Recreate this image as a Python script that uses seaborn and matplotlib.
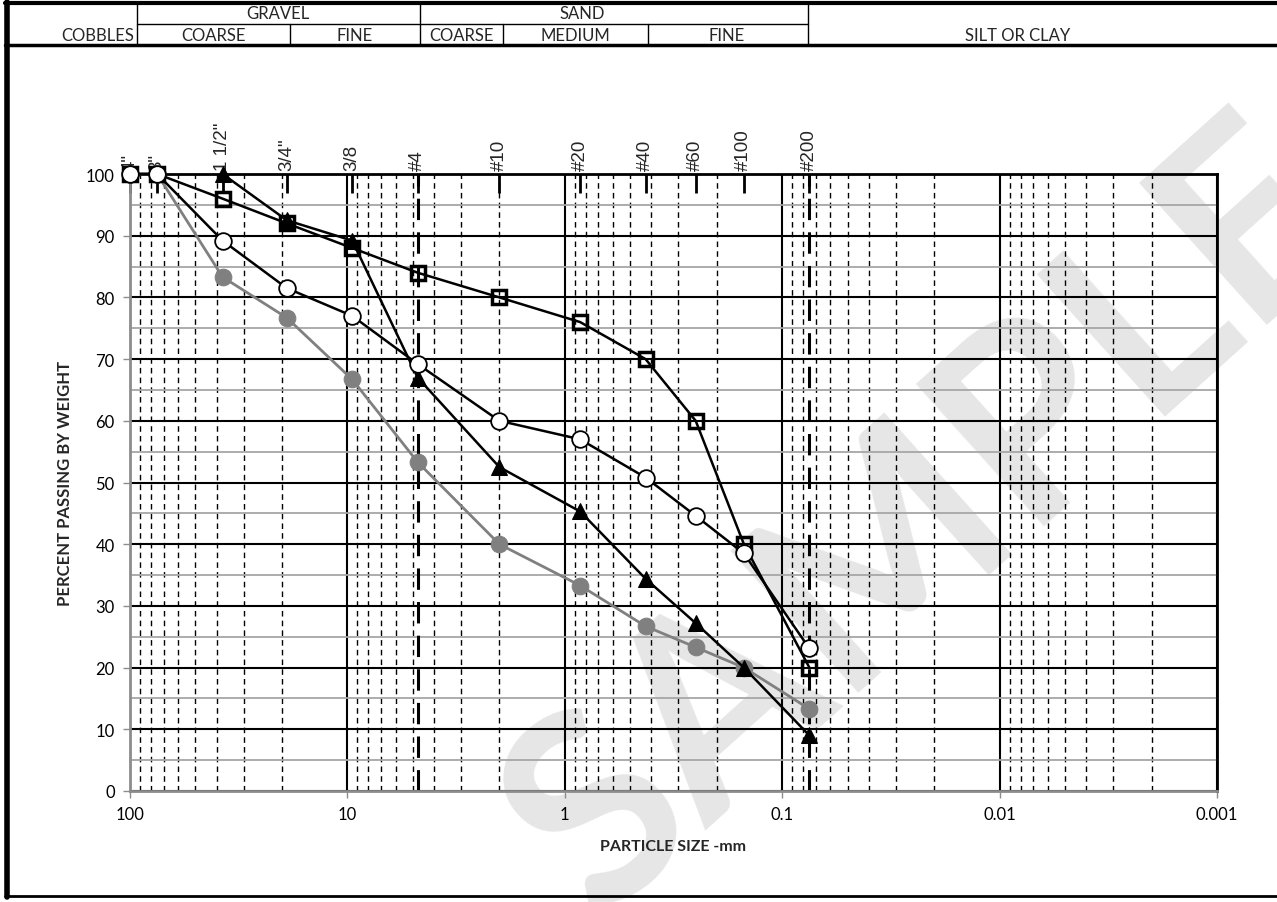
import numpy as np
import pandas as pd
import matplotlib
matplotlib.use("Agg")
import matplotlib.pyplot as plt
import seaborn as sns
from matplotlib.lines import Line2D
from matplotlib.ticker import FixedLocator, FixedFormatter, NullFormatter, LogLocator

# ---------------- data ----------------
sieve_sizes = [100, 75, 37.5, 19, 9.5, 4.75, 2, 0.85, 0.425, 0.25, 0.15, 0.075]
sieve_labels = ['4"', '3"', '1 1/2"', '3/4"', '3/8', '#4', '#10', '#20', '#40', '#60', '#100', '#200']

gray_circle = [100, 100, 83.3, 76.7, 66.7, 53.3, 40.0, 33.3, 26.7, 23.3, 20.0, 13.3]
open_circle = [100, 100, 89.2, 81.5, 77.0, 69.2, 60.0, 57.0, 50.8, 44.6, 38.5, 23.1]
triangle_sizes = [37.5, 19, 9.5, 4.75, 2, 0.85, 0.425, 0.25, 0.15, 0.075]
triangle = [100, 92.5, 89.2, 67.0, 52.5, 45.3, 34.4, 27.2, 20.0, 9.0]
square = [100, 100, 96.0, 92.0, 88.0, 84.0, 80.0, 76.0, 70.0, 60.0, 40.0, 20.0]

x_ticks = [100, 10, 1, 0.1, 0.01, 0.001]
x_tick_labels = ['100', '10', '1', '0.1', '0.01', '0.001']
y_ticks = list(range(0, 101, 10))

header_top = [('GRAVEL', 278), ('SAND', 582)]
header_bottom = [('COARSE', 213), ('FINE', 355), ('COARSE', 462),
                 ('MEDIUM', 575), ('FINE', 727), ('SILT OR CLAY', 1018)]

# ---------------- figure ----------------
sns.set_theme(style="white")
plt.rcParams['font.family'] = ['Lato', 'DejaVu Sans']

W, H = 1277, 903
fig = plt.figure(figsize=(W / 100, H / 100), dpi=100)

def fx(px):
    return px / W

def fy(py):
    return 1 - py / H

# watermark behind everything
fig.text(fx(930), fy(520), 'SAMPLE', rotation=42, fontsize=190, color='#e6e6e6',
         ha='center', va='center', zorder=-5, fontweight='bold', family='Lato')

ax = fig.add_axes([fx(130), fy(792), fx(1217) - fx(130), fy(175) - fy(792)])
ax.set_facecolor('none')
ax.set_xscale('log')
ax.set_xlim(100, 0.001)
ax.set_ylim(0, 100)

# grid
ax.xaxis.set_major_locator(FixedLocator(x_ticks))
ax.xaxis.set_major_formatter(FixedFormatter(x_tick_labels))
ax.xaxis.set_minor_locator(LogLocator(base=10, subs=np.arange(2, 10)))
ax.xaxis.set_minor_formatter(NullFormatter())
ax.yaxis.set_major_locator(FixedLocator(y_ticks))
ax.yaxis.set_minor_locator(FixedLocator([5, 15, 25, 35, 45, 55, 65, 75, 85, 95]))

ax.grid(which='major', axis='both', color='black', lw=1.5, zorder=1)
ax.grid(which='minor', axis='x', color='black', lw=1.0, ls=(0, (4, 3)), zorder=1)
ax.grid(which='minor', axis='y', color='#a6a6a6', lw=1.3, zorder=1)
ax.set_axisbelow(True)

for side in ['top', 'right']:
    ax.spines[side].set_color('black')
    ax.spines[side].set_linewidth(2)
for side in ['left', 'bottom']:
    ax.spines[side].set_color('#8c8c8c')
    ax.spines[side].set_linewidth(2)

ax.tick_params(axis='both', which='major', direction='out', length=5, width=1,
               color='#8c8c8c', labelsize=12, labelcolor='black', pad=6)
ax.tick_params(axis='both', which='minor', length=0)
ax.tick_params(axis='x', which='major', bottom=True)
ax.tick_params(axis='y', which='major', left=True)

# #4 and #200 reference lines
for s in [4.75, 0.075]:
    ax.axvline(s, color='black', lw=2.2, ls=(0, (7, 4)), zorder=2)

# series
ax_kw = dict(ax=ax, sort=False, estimator=None, legend=False, clip_on=False)
sns.lineplot(x=sieve_sizes, y=gray_circle, color='#808080', lw=2, marker='o',
             markersize=12, markerfacecolor='#808080', markeredgecolor='#808080',
             zorder=3, **ax_kw)
sns.lineplot(x=triangle_sizes, y=triangle, color='black', lw=1.8, marker='^',
             markersize=11, markerfacecolor='black', markeredgecolor='black',
             zorder=4, **ax_kw)
sns.lineplot(x=sieve_sizes, y=square, color='black', lw=1.8, marker='s',
             markersize=10, markerfacecolor='none', markeredgecolor='black',
             markeredgewidth=2.5, zorder=5, **ax_kw)
sns.lineplot(x=sieve_sizes, y=open_circle, color='black', lw=1.8, marker='o',
             markersize=12, markerfacecolor='white', markeredgecolor='black',
             markeredgewidth=1.3, zorder=6, **ax_kw)

ax.set_xlabel('PARTICLE SIZE -mm', fontsize=11.5, fontweight='bold', labelpad=12)
ax.set_ylabel('PERCENT PASSING BY WEIGHT', fontsize=12, fontweight='bold', labelpad=9)

# sieve labels at the top
top = ax.twiny()
top.set_xscale('log')
top.set_xlim(ax.get_xlim())
top.xaxis.set_major_locator(FixedLocator(sieve_sizes))
top.xaxis.set_major_formatter(FixedFormatter(sieve_labels))
top.xaxis.set_minor_locator(FixedLocator([]))
top.tick_params(axis='x', which='major', direction='in', length=14, width=2,
                color='black', labelsize=13.5, pad=3, labelrotation=90)
for lab in top.get_xticklabels():
    lab.set_family(['Liberation Sans', 'DejaVu Sans'])
top.set_zorder(-1)
for sp in top.spines.values():
    sp.set_visible(False)

# ---------------- header table & frame ----------------
def hline(y, x0, x1, lw):
    fig.add_artist(Line2D([fx(x0), fx(x1)], [fy(y), fy(y)], color='black', lw=lw))

def vline(x, y0, y1, lw):
    fig.add_artist(Line2D([fx(x), fx(x)], [fy(y0), fy(y1)], color='black', lw=lw))

hline(4, 5, 1277, 3)
hline(25, 137, 808, 1)
hline(46, 5, 1277, 2.5)
hline(897, 5, 1277, 2)
vline(6.5, 3, 898, 4)
for xv in [137, 420, 808]:
    vline(xv, 4, 46, 1)
for xv in [290, 503, 648]:
    vline(xv, 25, 46, 1)

for t, xc in header_top:
    fig.text(fx(xc), fy(14), t, ha='center', va='center', fontsize=12)
fig.text(fx(134), fy(36), 'COBBLES', ha='right', va='center', fontsize=12)
for t, xc in header_bottom:
    fig.text(fx(xc), fy(36), t, ha='center', va='center', fontsize=12)

fig.savefig('out.png', dpi=100)
